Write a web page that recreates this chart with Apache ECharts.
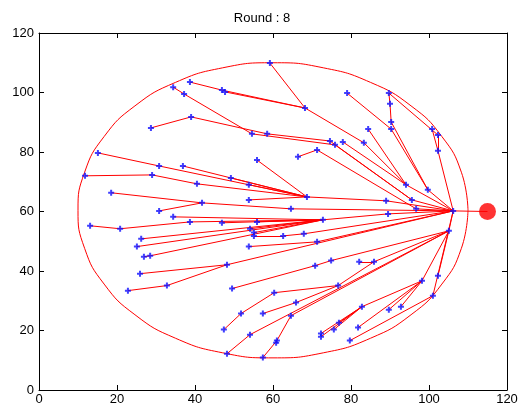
<!DOCTYPE html>
<html><head><meta charset="utf-8">
<script src="https://cdn.jsdelivr.net/npm/echarts@6/dist/echarts.min.js"></script>
<style>html,body{margin:0;padding:0;background:#fff}#c{width:524px;height:408px}</style>
</head><body><div id="c"></div>
<script>
// Node positions (index 0 = cluster head / sink node)
const nodeX = [106.2,
  59.2, 68.2, 46.9, 47.7, 38.7, 34.4, 37.2, 39.0, 28.7, 15.1,
  54.6, 58.5, 74.6, 75.9, 77.9, 83.3, 84.4, 79.0, 89.7, 90.0,
  90.3, 90.3, 100.8, 102.3, 102.3, 66.4, 71.3, 55.9,
  30.8, 36.9, 11.8, 29.0, 40.5, 18.5, 41.8, 30.8, 34.4, 38.7,
  13.1, 20.8, 26.2, 25.1, 26.9, 28.5,
  49.2, 53.8, 68.7, 53.8, 64.6, 46.9, 55.9, 72.8, 54.1, 55.1,
  55.1, 62.6, 67.9, 71.3, 53.8, 48.2, 70.8, 74.9, 82.1,
  94.1, 99.7, 89.0, 95.6, 96.7, 89.5, 105.1, 85.9,
  25.9, 22.8, 32.8, 49.5, 60.3, 76.7, 65.9, 51.8, 57.4, 64.6,
  82.8, 47.4, 54.1, 60.8, 61.0, 72.3, 72.3, 75.6, 76.9, 81.8,
  79.7, 48.2, 57.4, 98.2, 102.3, 101.0, 89.7, 92.8];
const nodeY = [60.2,
  109.9, 94.8, 100.8, 100.2, 103.5, 101.8, 99.5, 91.8, 88.1, 79.7,
  86.1, 86.1, 83.7, 82.4, 83.4, 83.1, 87.7, 99.8, 99.8, 96.2,
  90.1, 87.7, 87.7, 85.7, 80.4, 78.4, 80.7, 77.3,
  75.3, 75.3, 72.0, 72.3, 69.3, 66.3, 62.9, 60.2, 58.2, 56.5,
  55.2, 54.2, 50.8, 48.2, 44.8, 45.1,
  71.3, 69.0, 64.9, 63.9, 60.9, 56.2, 56.5, 57.2, 54.2, 52.9,
  51.8, 51.8, 52.5, 49.8, 48.2, 42.1, 41.8, 43.5, 43.1,
  69.0, 67.3, 63.6, 63.9, 60.9, 59.2, 53.5, 43.1,
  39.1, 33.4, 35.1, 34.1, 32.7, 35.1, 29.4, 25.7, 25.7, 25.0,
  28.0, 20.3, 18.6, 15.9, 16.6, 19.0, 17.9, 20.3, 22.6, 21.0,
  16.6, 12.2, 10.9, 36.7, 38.4, 31.7, 27.0, 28.0];
// Links between nodes [from, to]
const edges = [
  [1,2],[2,16],[3,2],[4,2],[5,3],[6,7],[7,11],[8,12],[9,8],[10,29],
  [11,14],[12,13],[13,67],[14,67],[15,64],[16,64],[17,64],[18,22],[19,24],[19,20],
  [20,21],[21,65],[22,65],[23,25],[24,25],[25,0],[26,27],[27,68],[28,47],
  [29,47],[30,47],[31,32],[32,33],[33,47],[34,35],[35,49],[36,35],[37,52],[38,52],
  [39,40],[40,38],[41,52],[42,52],[43,44],[44,52],
  [45,47],[46,47],[47,66],[48,47],[49,0],[50,52],[51,52],[52,69],[53,52],[54,52],
  [55,56],[56,57],[57,0],[58,0],[59,58],[60,0],[61,62],[62,70],[63,71],
  [64,0],[65,0],[66,0],[67,0],[68,0],[69,0],[70,0],[71,70],
  [72,60],[73,74],[74,60],[75,61],[76,77],[77,71],[78,77],[79,76],[80,78],[81,70],
  [82,95],[83,79],[84,70],[85,86],[86,81],[87,82],[88,82],[89,82],[90,82],[91,95],
  [92,97],[93,84],[94,86],[95,70],[96,70],[97,0],[98,95],[99,95]];
const sinkIndex = 0;
const baseStation = [115, 60];
// Boundary curve points
const ellipseX = [110, 108.3, 103.3, 95.4, 85, 72.9, 60, 47.1, 35, 24.6, 16.7, 11.7, 10, 11.7, 16.7, 24.6, 35, 47.1, 60, 72.9, 85, 95.4, 103.3, 108.3, 110];
const ellipseY = [60.4, 73.2, 85.2, 95.5, 103.4, 108.3, 110, 108.3, 103.4, 95.5, 85.2, 73.2, 60.4, 47.6, 35.6, 25.3, 17.4, 12.5, 10.8, 12.5, 17.4, 25.3, 35.6, 47.6, 60.4];
const titleText = 'Round : 8';
const axisMin = 0, axisMax = 120, axisStep = 20;

const FONT = 'Liberation Sans, Arial, sans-serif';
const linkData = edges.map(e => ({coords: [[nodeX[e[0]], nodeY[e[0]]], [nodeX[e[1]], nodeY[e[1]]]]}));
linkData.push({coords: [[nodeX[sinkIndex], nodeY[sinkIndex]], baseStation]});
const nodeData = nodeX.map((x, i) => [x, nodeY[i]]);
const ellipseData = ellipseX.map((x, i) => [x, ellipseY[i]]);

function axisCommon(pos, labels) {
  return {
    type: 'value', min: axisMin, max: axisMax, interval: axisStep, position: pos,
    axisLine: {show: true, onZero: false, lineStyle: {color: '#000', width: 1}},
    axisTick: {show: true, inside: true, length: 5, lineStyle: {color: '#000'}},
    axisLabel: {show: labels, color: '#000', fontSize: 13, fontFamily: FONT, margin: (pos === 'left' ? 5 : 3)},
    splitLine: {show: false}
  };
}

const chart = echarts.init(document.getElementById('c'));
chart.setOption({
  animation: false,
  backgroundColor: '#fff',
  title: {text: titleText, left: 'center', top: 7, textStyle: {fontSize: 13, fontWeight: 'normal', color: '#000', fontFamily: FONT}},
  grid: {left: 39, right: 17, top: 33, bottom: 18},
  xAxis: [axisCommon('bottom', true), axisCommon('top', false)],
  yAxis: [axisCommon('left', true), axisCommon('right', false)],
  series: [
    {type: 'line', data: ellipseData, smooth: true, showSymbol: false, silent: true,
     lineStyle: {color: '#ff0000', width: 1}, z: 1},
    {type: 'lines', coordinateSystem: 'cartesian2d', data: linkData, silent: true,
     lineStyle: {color: '#ff0000', width: 1, opacity: 1}, z: 2},
    {type: 'scatter', data: nodeData, symbol: 'path://M2,0H4V2H6V4H4V6H2V4H0V2H2Z', symbolSize: 6,
     itemStyle: {color: '#1010ff'}, silent: true, z: 3},
    {type: 'scatter', data: [baseStation], symbol: 'circle', symbolSize: 17,
     itemStyle: {color: '#ff0000'}, silent: true, z: 4}
  ]
});
</script>
</body></html>
